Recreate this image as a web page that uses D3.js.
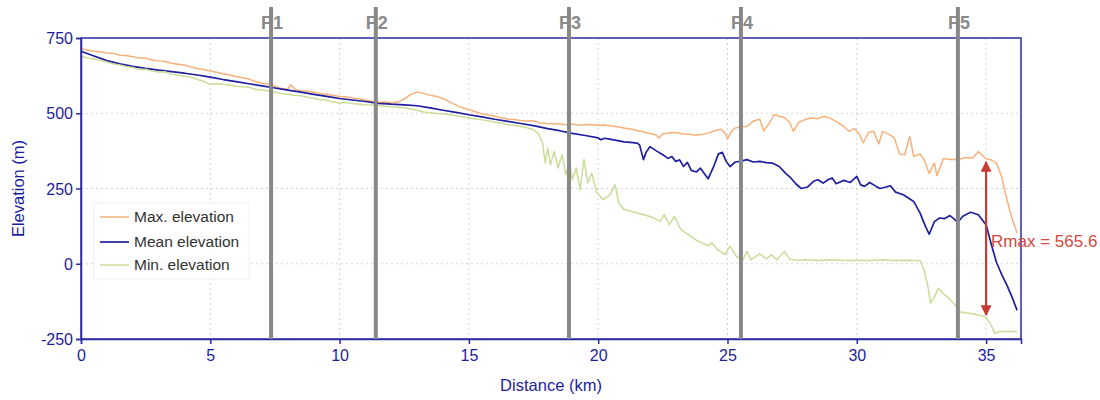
<!DOCTYPE html>
<head>
    <meta charset="utf-8">
    <title>Elevation profile</title>
    <script src="https://cdnjs.cloudflare.com/ajax/libs/d3/7.8.5/d3.min.js"></script>
    <style>
        body { margin: 0; background: #fff; }
        text { font-family: "Liberation Sans", Arial, sans-serif; }
    </style>
</head>
<body>
    <div id="chart"></div>
    <script type="text/javascript">
        // [distance km, elevation m]
        const maxElevation = [
            [0,714],[0.25,710],[0.5,706],[0.75,704],[1,700],[1.25,699],[1.5,693],[1.75,692],[2,688],[2.25,684],
            [2.5,683],[2.75,677],[3,674],[3.25,672],[3.5,666],[3.75,663],[4,660],[4.25,654],[4.5,649],[4.75,645],
            [5,640],[5.25,636],[5.5,631],[5.75,627],[6,622],[6.25,618],[6.5,614],[6.75,605],[7,600],[7.25,596],
            [7.5,590],[7.75,582],[8,580],[8.1,595],[8.3,578],[8.5,575],[8.75,573],[9,570],[9.25,566],[9.5,563],
            [9.75,560],[10,556],[10.25,555],[10.5,551],[10.75,548],[11,544],[11.25,540],[11.5,536],[11.75,537],[12,535],
            [12.25,537],[12.5,548],[12.75,562],[13,571],[13.25,566],[13.5,560],[13.75,556],[14,549],[14.25,538],[14.5,528],
            [14.75,518],[15,512],[15.25,505],[15.5,498],[15.75,494],[16,490],[16.25,485],[16.5,481],[16.75,479],[17,476],
            [17.25,474],[17.5,475],[17.75,468],[18,466],[18.25,465],[18.5,465],[18.75,462],[19,464],[19.25,460],[19.5,462],
            [19.75,463],[20,460],[20.25,461],[20.5,458],[20.75,455],[21,451],[21.25,448],[21.5,443],[21.75,438],[22,433],
            [22.25,428],[22.35,418],[22.5,432],[22.75,434],[23,436],[23.25,432],[23.5,430],[23.75,428],[24,429],[24.25,434],
            [24.5,442],[24.75,447],[24.9,435],[25,415],[25.15,440],[25.3,451],[25.5,455],[25.75,456],[26,474],[26.25,480],
            [26.4,442],[26.6,465],[26.8,495],[27,490],[27.2,486],[27.4,470],[27.55,440],[27.75,470],[28,479],[28.25,484],
            [28.5,482],[28.75,490],[29,482],[29.25,470],[29.5,456],[29.7,440],[29.9,450],[30.1,430],[30.25,402],[30.45,436],
            [30.65,440],[30.85,398],[31,440],[31.25,430],[31.45,418],[31.65,365],[31.85,362],[32.05,423],[32.2,357],[32.45,365],
            [32.6,346],[32.8,300],[33,335],[33.1,292],[33.35,350],[33.6,346],[33.9,346],[34.2,352],[34.5,352],[34.7,373],
            [34.95,351],[35.2,345],[35.4,335],[35.6,290],[35.8,215],[36,150],[36.2,102]
        ];
        const meanElevation = [
            [0,706],[0.5,690],[1,675],[1.5,664],[2,656],[2.5,649],[3,643],[3.5,638],[4,633],[4.5,627],
            [5,620],[5.5,612],[6,605],[6.5,598],[7,591],[7.5,584],[8,577],[8.5,570],[9,563],[9.5,556],
            [10,549],[10.5,544],[11,539],[11.5,533],[12,530],[12.5,528],[13,525],[13.5,518],[14,510],[14.5,503],
            [15,495],[15.5,488],[16,480],[16.5,473],[17,466],[17.5,459],[18,450],[18.5,442],[19,433],[19.5,426],
            [20,418],[20.1,412],[20.25,417],[20.5,413],[20.75,409],[21,405],[21.25,403],[21.5,401],[21.6,395],[21.75,346],
            [21.85,370],[22,389],[22.25,375],[22.5,362],[22.7,350],[22.85,356],[23,340],[23.15,345],[23.3,323],[23.45,337],
            [23.6,310],[23.8,305],[23.95,318],[24.1,300],[24.25,282],[24.45,320],[24.65,365],[24.8,370],[24.95,340],[25.1,323],
            [25.3,338],[25.5,340],[25.75,346],[26,338],[26.25,340],[26.5,336],[26.75,334],[27,323],[27.25,300],[27.45,285],
            [27.65,265],[27.85,250],[28.1,255],[28.35,275],[28.5,279],[28.7,268],[28.9,280],[29.05,285],[29.2,266],[29.5,277],
            [29.75,270],[30,290],[30.15,262],[30.3,257],[30.5,270],[30.75,257],[30.9,250],[31.1,254],[31.3,259],[31.5,238],
            [31.8,229],[32.2,207],[32.45,168],[32.65,125],[32.8,98],[33,140],[33.2,152],[33.4,150],[33.6,160],[33.75,150],
            [33.9,137],[34.1,158],[34.4,171],[34.7,163],[34.9,140],[35,130],[35.2,65],[35.4,5],[35.6,-35],[35.8,-70],
            [36,-110],[36.2,-155]
        ];
        const minElevation = [
            [0,690],[0.25,684],[0.5,680],[0.75,676],[1,670],[1.25,664],[1.5,660],[1.75,655],[2,652],[2.25,645],
            [2.5,646],[2.75,640],[3,637],[3.25,638],[3.5,630],[3.75,626],[4,623],[4.25,620],[4.5,612],[4.75,606],
            [5,596],[5.25,598],[5.5,596],[5.75,594],[6,590],[6.25,588],[6.5,586],[6.75,580],[7,577],[7.25,574],
            [7.5,570],[7.75,566],[8,563],[8.25,560],[8.5,558],[8.75,553],[9,550],[9.25,545],[9.5,543],[9.75,537],
            [10,534],[10.25,536],[10.5,532],[10.75,530],[11,528],[11.25,527],[11.5,526],[11.75,523],[12,522],[12.25,520],
            [12.5,518],[12.75,514],[13,510],[13.25,504],[13.5,502],[13.75,499],[14,498],[14.25,495],[14.5,492],[14.75,488],
            [15,484],[15.25,481],[15.5,478],[15.75,475],[16,470],[16.25,468],[16.5,462],[16.75,460],[17,456],[17.25,452],
            [17.5,445],[17.7,430],[17.85,401],[17.95,335],[18.05,385],[18.15,329],[18.3,373],[18.45,318],[18.6,362],[18.75,296],
            [18.9,335],[19,279],[19.15,318],[19.3,246],[19.45,346],[19.6,268],[19.75,301],[19.95,235],[20.2,213],[20.45,229],
            [20.65,263],[20.8,202],[21,180],[21.25,175],[21.55,168],[21.8,162],[22,157],[22.2,150],[22.4,141],[22.55,163],
            [22.75,130],[22.95,157],[23.2,113],[23.5,96],[23.8,78],[24,70],[24.25,60],[24.4,69],[24.6,48],[24.9,30],
            [25.1,58],[25.35,24],[25.6,13],[25.75,41],[25.9,13],[26.25,33],[26.5,16],[26.7,30],[26.9,13],[27.2,41],
            [27.4,16],[27.75,11],[28,13],[28.5,11],[29,13],[29.5,11],[30,12],[30.5,11],[31,13],[31.5,11],
            [32,12],[32.45,10],[32.6,-20],[32.75,-75],[32.85,-131],[33,-110],[33.15,-81],[33.35,-100],[33.55,-114],[33.8,-136],
            [34,-160],[34.4,-165],[34.7,-170],[35,-177],[35.2,-205],[35.35,-232],[35.5,-225],[36.2,-225]
        ];

        const profileKm = [7.35, 11.4, 18.87, 25.52, 33.91];
        const profileNames = ["P1", "P2", "P3", "P4", "P5"];
        const xTicks = [0, 5, 10, 15, 20, 25, 30, 35];
        const yTicks = [-250, 0, 250, 500, 750];
        const rmaxKm = 35;
        const rmaxLabel = "Rmax = 565.6";

        const seriesNames = ["Max. elevation", "Mean elevation", "Min. elevation"];
        const seriesColors = ["#f9b07a", "#1f1fa0", "#cadd98"];
        const seriesWidths = [1.5, 1.7, 1.5];
        const seriesData = [maxElevation, meanElevation, minElevation];

        const width = 1100;
        const height = 400;
        const marginLeft = 81;
        const marginTop = 38;
        const marginRight = 79;
        const marginBottom = 61;
        const axisColor = "#2b2ba3";
        const labelColor = "#1d1d9a";

        const svg = d3.select("#chart")
            .append("svg")
            .attr("width", width)
            .attr("height", height);

        const xScale = d3.scaleLinear()
            .domain([0, 36.35])
            .range([marginLeft, width - marginRight]);
        const yScale = d3.scaleLinear()
            .domain([-250, 750])
            .range([height - marginBottom, marginTop]);

        // grid
        svg.append("g")
            .selectAll("line")
            .data(xTicks.slice(1))
            .enter()
            .append("line")
            .attr("x1", d => xScale(d)).attr("x2", d => xScale(d))
            .attr("y1", marginTop).attr("y2", height - marginBottom)
            .attr("stroke", "#d4d4d4").attr("stroke-dasharray", "2,3");
        svg.append("g")
            .selectAll("line")
            .data(yTicks.slice(1, -1))
            .enter()
            .append("line")
            .attr("x1", marginLeft).attr("x2", width - marginRight)
            .attr("y1", d => yScale(d)).attr("y2", d => yScale(d))
            .attr("stroke", "#d4d4d4").attr("stroke-dasharray", "2,3");

        // series
        const line = d3.line()
            .x(d => xScale(d[0]))
            .y(d => yScale(d[1]));
        seriesData.forEach(function(data, i) {
            svg.append("path")
                .datum(data)
                .attr("fill", "none")
                .attr("stroke", seriesColors[i])
                .attr("stroke-width", seriesWidths[i])
                .attr("stroke-linejoin", "round")
                .attr("d", line);
        });

        // frame
        svg.append("rect")
            .attr("x", marginLeft).attr("y", marginTop)
            .attr("width", width - marginLeft - marginRight)
            .attr("height", height - marginTop - marginBottom)
            .attr("fill", "none")
            .attr("stroke", axisColor)
            .attr("stroke-width", 1.5);

        // axes
        const xAxis = d3.axisBottom(xScale)
            .tickValues(xTicks)
            .tickSize(5)
            .tickPadding(6);
        const gx = svg.append("g")
            .attr("transform", "translate(0," + (height - marginBottom) + ")")
            .call(xAxis);
        const yAxis = d3.axisLeft(yScale)
            .tickValues(yTicks)
            .tickFormat(d => String(d))
            .tickSize(5)
            .tickPadding(3);
        const gy = svg.append("g")
            .attr("transform", "translate(" + marginLeft + ",0)")
            .call(yAxis);
        [gx, gy].forEach(function(g) {
            g.select(".domain").attr("stroke", axisColor).attr("stroke-width", 1.5);
            g.selectAll(".tick line").attr("stroke", axisColor).attr("stroke-width", 1.5);
            g.selectAll(".tick text")
                .attr("fill", labelColor)
                .style("font-size", "16px")
                .style("font-family", "'Liberation Sans', Arial, sans-serif");
        });
        gy.selectAll(".tick text").attr("dy", "0.35em");

        svg.append("text")
            .attr("x", (marginLeft + width - marginRight) / 2)
            .attr("y", 391)
            .attr("text-anchor", "middle")
            .attr("fill", labelColor)
            .style("font-size", "16.5px")
            .text("Distance (km)");
        svg.append("text")
            .attr("transform", "translate(24," + yScale(250) + ") rotate(-90)")
            .attr("text-anchor", "middle")
            .attr("fill", labelColor)
            .style("font-size", "16.5px")
            .text("Elevation (m)");

        // profile markers (label first, bar on top)
        const markers = svg.append("g");
        markers.selectAll("text")
            .data(profileNames)
            .enter()
            .append("text")
            .attr("x", (d, i) => xScale(profileKm[i]) + 1)
            .attr("y", 29)
            .attr("text-anchor", "middle")
            .attr("fill", "#8a8a8a")
            .style("font-size", "18px")
            .style("font-weight", "bold")
            .text(d => d);
        markers.selectAll("line")
            .data(profileKm)
            .enter()
            .append("line")
            .attr("x1", d => xScale(d)).attr("x2", d => xScale(d))
            .attr("y1", 7).attr("y2", height - marginBottom)
            .attr("stroke", "#888")
            .attr("stroke-width", 4);

        // Rmax arrow
        const topVal = maxElevation.find(d => d[0] >= rmaxKm)[1];
        const bottomVal = minElevation.find(d => d[0] >= rmaxKm)[1];
        const defs = svg.append("defs");
        defs.append("marker")
            .attr("id", "arrow")
            .attr("viewBox", "0 0 10 10")
            .attr("refX", 9).attr("refY", 5)
            .attr("markerWidth", 5).attr("markerHeight", 5)
            .attr("markerUnits", "strokeWidth")
            .attr("orient", "auto-start-reverse")
            .append("path")
            .attr("d", "M0,0 L10,5 L0,10 z")
            .attr("fill", "#c83a32");
        svg.append("line")
            .attr("x1", xScale(rmaxKm)).attr("x2", xScale(rmaxKm))
            .attr("y1", yScale(topVal) + 2).attr("y2", yScale(bottomVal) - 2)
            .attr("stroke", "#c83a32")
            .attr("stroke-width", 2.2)
            .attr("marker-start", "url(#arrow)")
            .attr("marker-end", "url(#arrow)");
        svg.append("text")
            .attr("x", xScale(rmaxKm) + 5)
            .attr("y", 247)
            .attr("fill", "#d5493f")
            .style("font-size", "17px")
            .text(rmaxLabel);

        // legend
        const legend = svg.append("g");
        legend.append("rect")
            .attr("x", 94).attr("y", 203)
            .attr("width", 155).attr("height", 76)
            .attr("fill", "#fff").attr("fill-opacity", 0.85)
            .attr("stroke", "#f0f0f0");
        const legendY = [217, 242, 265];
        seriesNames.forEach(function(name, i) {
            legend.append("line")
                .attr("x1", 100).attr("x2", 129)
                .attr("y1", legendY[i]).attr("y2", legendY[i])
                .attr("stroke", seriesColors[i])
                .attr("stroke-width", seriesWidths[i]);
            legend.append("text")
                .attr("x", 134).attr("y", legendY[i] + 5)
                .attr("fill", "#333")
                .style("font-size", "15.5px")
                .text(name);
        });
    </script>
</body>
